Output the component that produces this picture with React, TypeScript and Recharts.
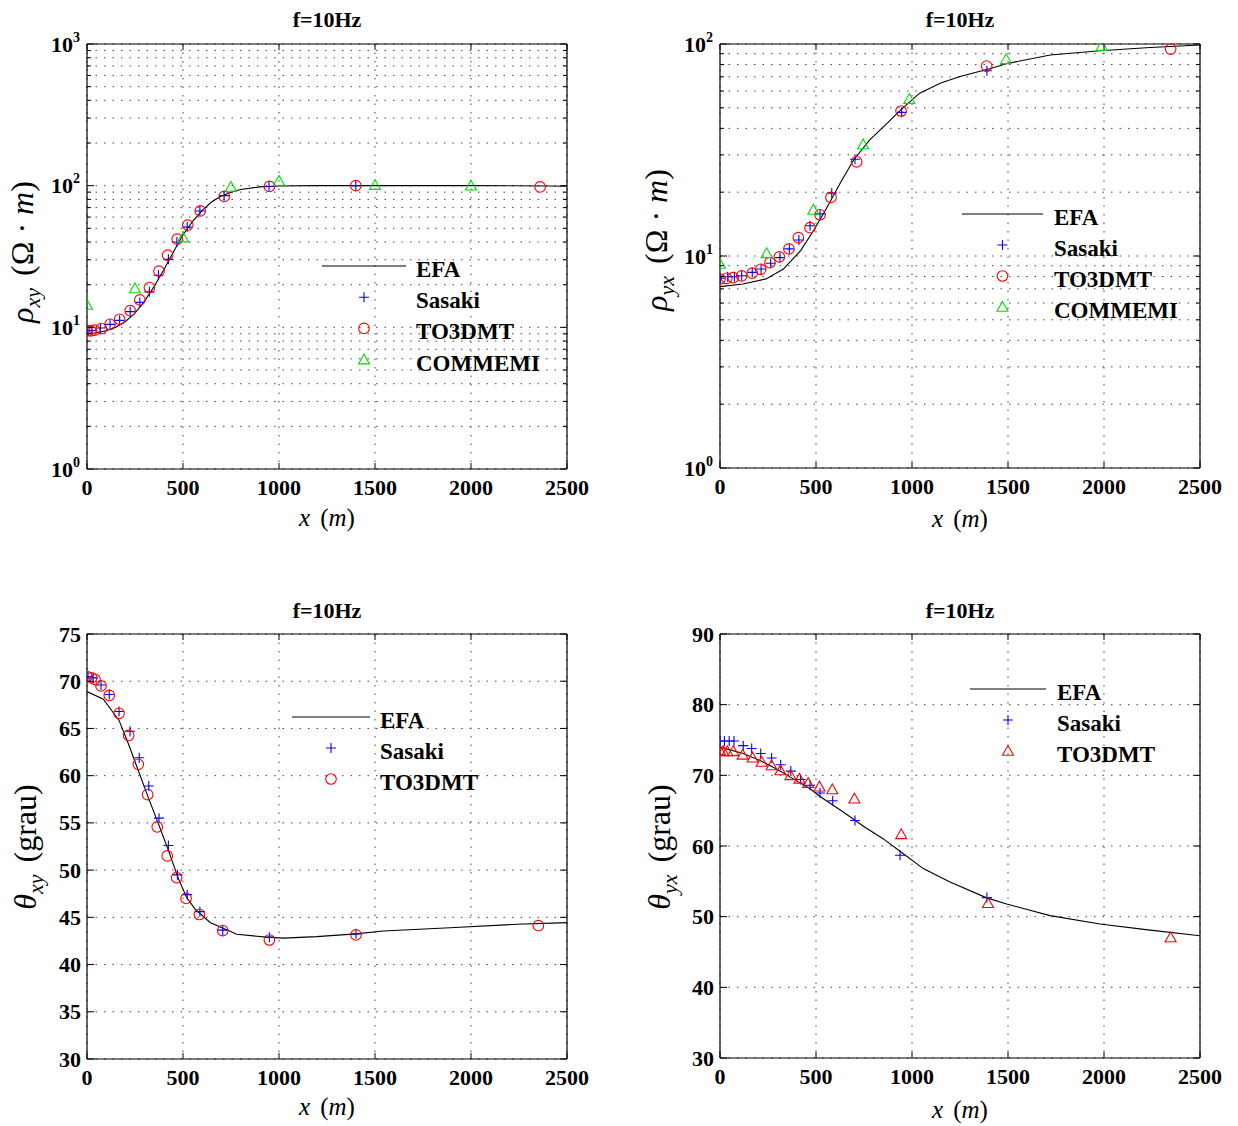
import React from "react";
import {
  ComposedChart, Line, Scatter, XAxis, YAxis, CartesianGrid, Legend, Label,
} from "recharts";

const FONT = '"Liberation Serif", "Times New Roman", serif';

// shared x axis
const xTicks = [0, 500, 1000, 1500, 2000, 2500];

// y ticks (log panels list every minor step so the dotted grid follows them)
const rhoXyTicks = [1, 2, 3, 4, 5, 6, 7, 8, 9, 10, 20, 30, 40, 50, 60, 70, 80, 90, 100, 200, 300, 400, 500, 600, 700, 800, 900, 1000];
const rhoYxTicks = [1, 2, 3, 4, 5, 6, 7, 8, 9, 10, 20, 30, 40, 50, 60, 70, 80, 90, 100];
const thetaXyTicks = [30, 35, 40, 45, 50, 55, 60, 65, 70, 75];
const thetaYxTicks = [30, 40, 50, 60, 70, 80, 90];

// rho_xy
const rhoXyEfaX = [0, 50, 100, 150, 200, 250, 300, 350, 400, 450, 500, 550, 600, 650, 700, 750, 800, 900, 1000, 1200, 1500, 2000, 2400, 2500];
const rhoXyEfaY = [9.05, 9.15, 9.45, 10.0, 11.0, 12.6, 15.3, 19.5, 25.5, 34, 45, 56, 67, 77, 84.5, 90, 94, 98, 99.5, 100, 100, 100, 99.5, 99];
const rhoXySasakiX = [5, 25, 70, 120, 170, 225, 275, 325, 372, 424, 468, 522, 588, 714, 948, 1400];
const rhoXySasakiY = [9.45, 9.5, 9.9, 10.5, 11.2, 12.9, 15, 17.8, 23.3, 30.2, 40, 51, 66.3, 85, 98.7, 100];
const rhoXyTo3dmtX = [0, 20, 40, 75, 120, 170, 225, 275, 325, 375, 420, 470, 525, 590, 715, 950, 1400, 2360];
const rhoXyTo3dmtY = [9.45, 9.45, 9.55, 9.8, 10.5, 11.4, 13.1, 15.6, 19.1, 24.9, 32.3, 41.9, 52.6, 66.3, 84, 98.7, 100, 98];
const rhoXyCommemiX = [0, 250, 500, 750, 1000, 1500, 2000];
const rhoXyCommemiY = [14.4, 18.8, 43, 98, 108, 101, 100];

// rho_yx
const rhoYxEfaX = [0, 120, 240, 330, 420, 490, 560, 625, 695, 780, 870, 940, 1040, 1150, 1250, 1400, 1500, 1720, 1980, 2240, 2500];
const rhoYxEfaY = [7.17, 7.38, 7.8, 8.68, 10.6, 13.3, 17.1, 22, 28.3, 35.3, 42.2, 48.8, 58.6, 65.4, 70.2, 76.2, 81.1, 88.7, 93, 96.2, 99];
const rhoYxSasakiX = [3, 40, 75, 113, 168, 214, 264, 312, 361, 411, 469, 521, 582, 703, 946, 1390];
const rhoYxSasakiY = [7.85, 7.98, 7.98, 8.07, 8.37, 8.68, 9.24, 9.83, 10.8, 11.9, 13.9, 15.8, 19.8, 28.6, 47.6, 74.8];
const rhoYxTo3dmtX = [0, 35, 69, 113, 168, 212, 260, 309, 359, 408, 469, 521, 578, 712, 943, 1389, 2347];
const rhoYxTo3dmtY = [7.79, 7.85, 7.9, 8.05, 8.3, 8.65, 9.3, 9.9, 10.8, 12.2, 13.6, 15.65, 18.9, 27.8, 48.3, 78.7, 94.6];
const rhoYxCommemiX = [0, 243, 486, 746, 986, 1490, 1988];
const rhoYxCommemiY = [9.17, 10.3, 16.5, 33.6, 55, 84.7, 97.8];

// theta_xy
const thetaXyEfaX = [0, 85, 167, 215, 267, 319, 372, 424, 476, 519, 562, 641, 780, 936, 1022, 1196, 1401, 1543, 1891, 2238, 2500];
const thetaXyEfaY = [68.9, 68.1, 65.85, 63.4, 60.55, 57.7, 54.9, 52.1, 49.1, 47.1, 45.9, 44.45, 43.2, 42.9, 42.8, 42.96, 43.25, 43.56, 43.9, 44.26, 44.44];
const thetaXySasakiX = [5, 32, 73, 116, 167, 224, 272, 322, 375, 424, 471, 522, 588, 707, 950, 1401];
const thetaXySasakiY = [70.5, 70.35, 69.6, 68.6, 66.8, 64.7, 61.9, 58.9, 55.5, 52.6, 49.5, 47.4, 45.6, 43.65, 42.9, 43.25];
const thetaXyTo3dmtX = [0, 24, 42, 73, 116, 167, 217, 267, 316, 366, 418, 467, 516, 585, 707, 950, 1401, 2351];
const thetaXyTo3dmtY = [70.5, 70.36, 70.2, 69.5, 68.5, 66.6, 64.26, 61.2, 58.0, 54.57, 51.5, 49.2, 47.0, 45.3, 43.6, 42.6, 43.14, 44.12];

// theta_yx
const thetaYxEfaX = [0, 121, 208, 295, 382, 469, 521, 642, 747, 851, 955, 1059, 1198, 1389, 1493, 1719, 1979, 2240, 2500];
const thetaYxEfaY = [74.0, 73.1, 72.1, 70.9, 69.5, 68.1, 67.0, 64.8, 62.8, 61.0, 58.9, 56.8, 54.9, 52.66, 51.8, 50.15, 48.96, 48.1, 47.3];
const thetaYxSasakiX = [0, 23, 48, 73, 121, 165, 212, 269, 316, 369, 420, 469, 521, 587, 703, 938, 1390];
const thetaYxSasakiY = [74.85, 74.85, 74.85, 74.85, 74.2, 73.8, 73.1, 72.45, 71.5, 70.6, 69.4, 68.6, 67.5, 66.4, 63.6, 58.7, 52.7];
const thetaYxTo3dmtX = [0, 17, 38, 69, 118, 170, 217, 269, 315, 367, 414, 459, 518, 585, 700, 944, 1396, 2347];
const thetaYxTo3dmtY = [73.5, 73.4, 73.4, 73.4, 72.9, 72.5, 71.9, 71.4, 70.7, 70.0, 69.5, 68.9, 68.4, 68.0, 66.7, 61.65, 51.9, 47.05];

const BLUE = "#0000ff";
const RED = "#ff0000";
const GREEN = "#00dd00";
const AXIS = { stroke: "#000", strokeWidth: 1.2 };

const rows = (xs: number[], ys: number[]) => xs.map((x, i) => ({ x, y: ys[i] }));

type Kind = "line" | "plus" | "ring" | "tri";

function Marker({ kind, cx, cy, color }: { kind: Kind; cx: number; cy: number; color: string }) {
  if (cx == null || cy == null) return null;
  if (kind === "plus")
    return <path d={`M${cx - 5},${cy}H${cx + 5}M${cx},${cy - 5}V${cy + 5}`} stroke={color} strokeWidth={1.1} fill="none" />;
  if (kind === "ring") return <circle cx={cx} cy={cy} r={5.3} stroke={color} strokeWidth={1.1} fill="none" />;
  if (kind === "tri")
    return <path d={`M${cx},${cy - 5.5}L${cx + 5.5},${cy + 4.3}L${cx - 5.5},${cy + 4.3}Z`} stroke={color} strokeWidth={1.1} fill="none" />;
  return null;
}

interface Series { name: string; kind: Kind; color: string; xs: number[]; ys: number[] }

interface PanelCfg {
  ox: number; oy: number;
  plot: { l: number; t: number; r: number; b: number };
  log: boolean;
  yDomain: [number, number];
  yTicks: number[];
  efaX: number[]; efaY: number[];
  series: Series[];
  legend: { x0: number; x1: number; tx: number; y0: number; dy: number };
  title: { cx: number; by: number };
  xLab: { cx: number; by: number };
  yLab: { bx: number; cy: number; sym: string; sub: string; unit: "ohm" | "grau" };
}

const panels: PanelCfg[] = [
  {
    ox: 0, oy: 0, plot: { l: 87, t: 44, r: 567, b: 469 }, log: true, yDomain: [1, 1000], yTicks: rhoXyTicks,
    efaX: rhoXyEfaX, efaY: rhoXyEfaY,
    series: [
      { name: "Sasaki", kind: "plus", color: BLUE, xs: rhoXySasakiX, ys: rhoXySasakiY },
      { name: "TO3DMT", kind: "ring", color: RED, xs: rhoXyTo3dmtX, ys: rhoXyTo3dmtY },
      { name: "COMMEMI", kind: "tri", color: GREEN, xs: rhoXyCommemiX, ys: rhoXyCommemiY },
    ],
    legend: { x0: 322, x1: 406, tx: 416, y0: 266, dy: 31.2 },
    title: { cx: 327, by: 27 }, xLab: { cx: 327, by: 526 },
    yLab: { bx: 33, cy: 252, sym: "ρ", sub: "xy", unit: "ohm" },
  },
  {
    ox: 619, oy: 0, plot: { l: 720, t: 44, r: 1200, b: 468 }, log: true, yDomain: [1, 100], yTicks: rhoYxTicks,
    efaX: rhoYxEfaX, efaY: rhoYxEfaY,
    series: [
      { name: "Sasaki", kind: "plus", color: BLUE, xs: rhoYxSasakiX, ys: rhoYxSasakiY },
      { name: "TO3DMT", kind: "ring", color: RED, xs: rhoYxTo3dmtX, ys: rhoYxTo3dmtY },
      { name: "COMMEMI", kind: "tri", color: GREEN, xs: rhoYxCommemiX, ys: rhoYxCommemiY },
    ],
    legend: { x0: 962, x1: 1043, tx: 1054, y0: 214, dy: 31 },
    title: { cx: 960, by: 27 }, xLab: { cx: 960, by: 527 },
    yLab: { bx: 667, cy: 240, sym: "ρ", sub: "yx", unit: "ohm" },
  },
  {
    ox: 0, oy: 563, plot: { l: 87, t: 634, r: 567, b: 1059 }, log: false, yDomain: [30, 75], yTicks: thetaXyTicks,
    efaX: thetaXyEfaX, efaY: thetaXyEfaY,
    series: [
      { name: "Sasaki", kind: "plus", color: BLUE, xs: thetaXySasakiX, ys: thetaXySasakiY },
      { name: "TO3DMT", kind: "ring", color: RED, xs: thetaXyTo3dmtX, ys: thetaXyTo3dmtY },
    ],
    legend: { x0: 292, x1: 370, tx: 380, y0: 717, dy: 31 },
    title: { cx: 327, by: 618 }, xLab: { cx: 327, by: 1115 },
    yLab: { bx: 36, cy: 847, sym: "θ", sub: "xy", unit: "grau" },
  },
  {
    ox: 619, oy: 563, plot: { l: 720, t: 634, r: 1200, b: 1058 }, log: false, yDomain: [30, 90], yTicks: thetaYxTicks,
    efaX: thetaYxEfaX, efaY: thetaYxEfaY,
    series: [
      { name: "Sasaki", kind: "plus", color: BLUE, xs: thetaYxSasakiX, ys: thetaYxSasakiY },
      { name: "TO3DMT", kind: "tri", color: RED, xs: thetaYxTo3dmtX, ys: thetaYxTo3dmtY },
    ],
    legend: { x0: 970, x1: 1046, tx: 1057, y0: 689, dy: 31 },
    title: { cx: 960, by: 618 }, xLab: { cx: 960, by: 1118 },
    yLab: { bx: 670, cy: 847, sym: "θ", sub: "yx", unit: "grau" },
  },
];

const isPow10 = (v: number) => Math.abs(Math.log10(v) - Math.round(Math.log10(v))) < 1e-9;

function LegendBox({ p }: { p: PanelCfg }) {
  const lg = p.legend;
  const items = [{ name: "EFA", kind: "line" as Kind, color: "#000" }, ...p.series];
  const x0 = 10, x1 = lg.x1 - lg.x0 + 10, mx = (x0 + x1) / 2, tx = lg.tx - lg.x0 + 10;
  const w = 270, h = items.length * lg.dy + 30;
  return (
    <svg width={w} height={h} style={{ display: "block", overflow: "visible" }}>
      {items.map((it, i) => {
        const y = 20 + i * lg.dy;
        return (
          <g key={it.name}>
            {it.kind === "line"
              ? <line x1={x0} x2={x1} y1={y} y2={y} stroke="#000" strokeWidth={1.1} />
              : <Marker kind={it.kind} cx={mx} cy={y} color={it.color} />}
            <text x={tx} y={y + 11} fontFamily={FONT} fontWeight="bold" fontSize={23} fill="#000">{it.name}</text>
          </g>
        );
      })}
    </svg>
  );
}

function Panel({ p }: { p: PanelCfg }) {
  const CW = 619, CH = 563, YW = 60, XH = 60;
  const l = p.plot.l - p.ox, t = p.plot.t - p.oy, r = p.plot.r - p.ox, b = p.plot.b - p.oy;
  const margin = { left: l - YW, top: t - 1, right: CW - r - 1, bottom: CH - b - XH };
  const efa = rows(p.efaX, p.efaY);

  const leftTick = ({ x, y, payload }: any) => {
    const v = payload.value;
    if (p.log) {
      const major = isPow10(v);
      return (
        <g>
          <line x1={x} x2={x + (major ? 7 : 4)} y1={y} y2={y} stroke="#000" />
          {major && (
            <text x={x - 7} y={y + 7.5} textAnchor="end" fontFamily={FONT} fontWeight="bold" fontSize={22} fill="#000">
              10<tspan dy={-10} fontSize={14}>{Math.round(Math.log10(v))}</tspan>
            </text>
          )}
        </g>
      );
    }
    return (
      <g>
        <line x1={x} x2={x + 7} y1={y} y2={y} stroke="#000" />
        <text x={x - 6} y={y + 7.5} textAnchor="end" fontFamily={FONT} fontWeight="bold" fontSize={22} fill="#000">{v}</text>
      </g>
    );
  };
  const rightTick = ({ x, y, payload }: any) => {
    const len = p.log && !isPow10(payload.value) ? 4 : 7;
    return <line x1={x} x2={x - len} y1={y} y2={y} stroke="#000" />;
  };
  const bottomTick = ({ x, y, payload }: any) => (
    <g>
      <line x1={x} x2={x} y1={y} y2={y - 6} stroke="#000" />
      <text x={x} y={y + 26} textAnchor="middle" fontFamily={FONT} fontWeight="bold" fontSize={22} fill="#000">{payload.value}</text>
    </g>
  );
  const topTick = ({ x, y }: any) => <line x1={x} x2={x} y1={y} y2={y + 6} stroke="#000" />;

  const yl = p.yLab;
  const yTitle = () => (
    <text transform={`translate(${yl.bx - p.ox},${yl.cy - p.oy}) rotate(-90)`} textAnchor="middle" fontFamily={FONT} fontSize={32} fill="#000">
      <tspan fontStyle="italic">{yl.sym}</tspan>
      <tspan fontStyle="italic" fontSize={22} dy={7}>{yl.sub}</tspan>
      {yl.unit === "ohm" ? (
        <>
          <tspan dy={-7} dx={12}>(Ω · </tspan>
          <tspan fontStyle="italic">m</tspan>
          <tspan>)</tspan>
        </>
      ) : (
        <tspan dy={-7} dx={12}>(grau)</tspan>
      )}
    </text>
  );
  const xTitle = () => (
    <text x={p.xLab.cx - p.ox} y={p.xLab.by - p.oy} textAnchor="middle" fontFamily={FONT} fontSize={25} fill="#000">
      <tspan fontStyle="italic">x</tspan>
      <tspan dx={10}>(</tspan>
      <tspan fontStyle="italic">m</tspan>
      <tspan>)</tspan>
    </text>
  );
  const title = () => (
    <text x={p.title.cx - p.ox} y={p.title.by - p.oy} textAnchor="middle" fontFamily={FONT} fontWeight="bold" fontSize={22} fill="#000">
      f=10Hz
    </text>
  );

  return (
    <div style={{ position: "absolute", left: p.ox, top: p.oy, width: CW, height: CH }}>
      <ComposedChart width={CW} height={CH} margin={margin}>
        <CartesianGrid stroke="#444" strokeDasharray="1.5 7" strokeWidth={1} />
        <XAxis dataKey="x" type="number" domain={[0, 2500]} ticks={xTicks} interval={0} allowDataOverflow
          height={XH} tickSize={0} tickMargin={0} tickLine={false} axisLine={AXIS} tick={bottomTick}>
          <Label content={xTitle} />
        </XAxis>
        <XAxis xAxisId="top" orientation="top" dataKey="x" type="number" domain={[0, 2500]} ticks={xTicks} interval={0}
          allowDataOverflow height={1} tickSize={0} tickMargin={0} tickLine={false} axisLine={AXIS} tick={topTick}>
          <Label content={title} />
        </XAxis>
        <YAxis type="number" scale={p.log ? "log" : "linear"} domain={p.yDomain} ticks={p.yTicks} interval={0} allowDataOverflow
          width={YW} tickSize={0} tickMargin={0} tickLine={false} axisLine={AXIS} tick={leftTick}>
          <Label content={yTitle} />
        </YAxis>
        <YAxis yAxisId="right" orientation="right" type="number" scale={p.log ? "log" : "linear"} domain={p.yDomain} ticks={p.yTicks}
          interval={0} allowDataOverflow width={1} tickSize={0} tickMargin={0} tickLine={false} axisLine={AXIS} tick={rightTick} />
        <Line data={efa} dataKey="y" type="linear" stroke="#000" strokeWidth={1.1} dot={false} isAnimationActive={false} />
        {p.series.map((s) => (
          <Scatter key={s.name} name={s.name} data={rows(s.xs, s.ys)} dataKey="y" isAnimationActive={false}
            shape={(sp: any) => <Marker kind={s.kind} cx={sp.cx} cy={sp.cy} color={s.color} />} />
        ))}
        <Legend layout="horizontal" verticalAlign="middle" align="center"
          wrapperStyle={{ left: p.legend.x0 - 10 - p.ox, top: p.legend.y0 - 20 - p.oy, width: 270, margin: 0, padding: 0, lineHeight: 0 }}
          content={() => <LegendBox p={p} />} />
      </ComposedChart>
    </div>
  );
}

export default function App() {
  return (
    <div style={{ position: "absolute", left: 0, top: 0, width: 1238, height: 1126, background: "#fff" }}>
      {panels.map((p, i) => <Panel key={i} p={p} />)}
    </div>
  );
}
